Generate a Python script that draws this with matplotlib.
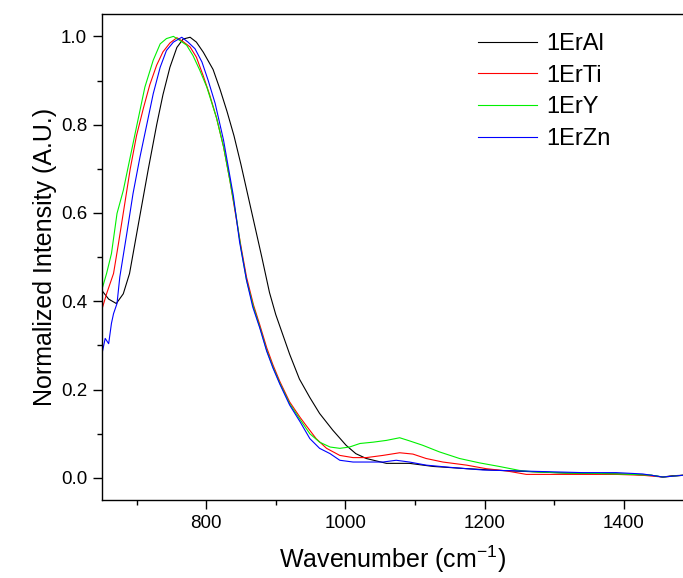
import numpy as np
import matplotlib
matplotlib.use('Agg')
import matplotlib.pyplot as plt

plt.rcParams['font.family'] = ['Liberation Sans', 'DejaVu Sans']
plt.rcParams['mathtext.default'] = 'regular'

# values
wn_al = [650, 660, 671, 681, 690, 705, 717, 729, 738, 748, 758, 767, 777, 786, 796,
         810, 820, 830, 840, 850, 860, 870, 880, 891, 900, 910, 920, 934, 949, 963,
         982, 1001, 1015, 1030, 1059, 1092, 1126, 1174, 1221, 1269, 1317, 1365,
         1413, 1440, 1456, 1470, 1485]
int_al = [0.425, 0.405, 0.395, 0.417, 0.463, 0.595, 0.700, 0.800, 0.868, 0.930, 0.975,
          0.994, 0.998, 0.987, 0.964, 0.925, 0.880, 0.830, 0.775, 0.710, 0.640, 0.570,
          0.500, 0.420, 0.370, 0.325, 0.280, 0.224, 0.182, 0.146, 0.108, 0.074, 0.055,
          0.044, 0.033, 0.033, 0.026, 0.021, 0.017, 0.014, 0.011, 0.010, 0.008, 0.006,
          0.002, 0.005, 0.006]

wn_ti = [650, 657, 667, 674, 681, 691, 700, 710, 719, 729, 738, 748, 758, 767, 777,
         786, 796, 805, 815, 825, 834, 843, 850, 858, 868, 877, 887, 896, 906, 920,
         935, 944, 958, 973, 992, 1011, 1030, 1054, 1078, 1097, 1116, 1140, 1174,
         1202, 1231, 1260, 1293, 1341, 1389, 1427, 1456, 1485]
int_ti = [0.380, 0.417, 0.463, 0.530, 0.600, 0.700, 0.775, 0.838, 0.890, 0.935, 0.965,
          0.985, 0.997, 0.988, 0.976, 0.953, 0.910, 0.868, 0.815, 0.750, 0.675, 0.590,
          0.525, 0.455, 0.392, 0.347, 0.295, 0.256, 0.218, 0.172, 0.137, 0.118, 0.089,
          0.067, 0.051, 0.046, 0.046, 0.051, 0.057, 0.054, 0.044, 0.036, 0.029, 0.021,
          0.016, 0.008, 0.008, 0.008, 0.008, 0.006, 0.002, 0.006]

wn_y = [650, 657, 664, 672, 681, 691, 700, 712, 724, 734, 743, 753, 762, 772, 781,
        791, 801, 815, 825, 834, 843, 850, 858, 868, 877, 887, 896, 906, 920, 935,
        949, 963, 978, 992, 1006, 1021, 1040, 1059, 1078, 1092, 1111, 1135, 1164,
        1193, 1221, 1250, 1269, 1317, 1365, 1413, 1440, 1456, 1485]
int_y = [0.425, 0.463, 0.508, 0.599, 0.651, 0.727, 0.795, 0.885, 0.946, 0.983, 0.995,
         1.000, 0.991, 0.980, 0.957, 0.923, 0.885, 0.815, 0.750, 0.675, 0.595, 0.520,
         0.448, 0.387, 0.342, 0.289, 0.251, 0.214, 0.168, 0.132, 0.100, 0.081, 0.070,
         0.067, 0.070, 0.078, 0.081, 0.085, 0.091, 0.084, 0.074, 0.059, 0.044, 0.034,
         0.026, 0.017, 0.014, 0.011, 0.010, 0.008, 0.006, 0.002, 0.006]

wn_zn = [650, 655, 660, 664, 667, 672, 676, 686, 695, 705, 715, 724, 734, 743, 753,
         765, 774, 784, 794, 803, 813, 825, 839, 848, 858, 867, 877, 887, 896, 906,
         920, 935, 949, 963, 978, 992, 1011, 1054, 1073, 1092, 1116, 1150, 1197,
         1245, 1293, 1341, 1389, 1427, 1456, 1485]
int_zn = [0.278, 0.316, 0.304, 0.350, 0.372, 0.395, 0.455, 0.553, 0.644, 0.727, 0.802,
          0.870, 0.930, 0.968, 0.987, 0.998, 0.987, 0.972, 0.942, 0.900, 0.848, 0.765,
          0.640, 0.535, 0.448, 0.387, 0.340, 0.287, 0.249, 0.212, 0.165, 0.127, 0.089,
          0.067, 0.055, 0.040, 0.036, 0.036, 0.040, 0.036, 0.029, 0.024, 0.018, 0.016,
          0.014, 0.012, 0.012, 0.009, 0.002, 0.006]

series = [('1ErAl', wn_al, int_al, 'black'),
          ('1ErTi', wn_ti, int_ti, '#FF0000'),
          ('1ErY', wn_y, int_y, '#00F000'),
          ('1ErZn', wn_zn, int_zn, '#0000FF')]

fig = plt.figure(figsize=(6.83, 5.78), dpi=100)
ax = fig.add_axes([101.7 / 683, 78 / 578, (683 - 101.7) / 683, (500 - 14.3) / 578])

for name, x, y, c in series:
    ax.plot(x, y, color=c, lw=0.8, label=name)

ax.set_xlim(650, 1485)
ax.set_ylim(-0.05, 1.05)
ax.set_xticks([800, 1000, 1200, 1400])
ax.set_xticks([700, 900, 1100, 1300], minor=True)
ax.set_yticks([0.0, 0.2, 0.4, 0.6, 0.8, 1.0])
ax.set_yticks([0.1, 0.3, 0.5, 0.7, 0.9], minor=True)
ax.yaxis.set_major_formatter(matplotlib.ticker.FormatStrFormatter('%.1f'))

ax.spines['right'].set_visible(False)
for s in ['left', 'bottom', 'top']:
    ax.spines[s].set_linewidth(1.0)
ax.tick_params(which='major', direction='out', length=6.5, width=1.0, labelsize=13.5, pad=4)
ax.tick_params(which='minor', direction='out', length=3.3, width=1.0)
ax.tick_params(top=False, right=False)

ax.set_xlabel('Wavenumber (cm$^{-1}$)', fontsize=18, labelpad=9)
ax.set_ylabel('Normalized Intensity (A.U.)', fontsize=18, labelpad=3)

ax.legend(loc='upper left', bbox_to_anchor=(478 / 683, 1 - 33 / 578),
          bbox_transform=fig.transFigure, frameon=False, fontsize=17,
          handlelength=2.5, handletextpad=0.4, labelspacing=0.41,
          borderpad=0, borderaxespad=0)

fig.savefig('out.png', dpi=100)
